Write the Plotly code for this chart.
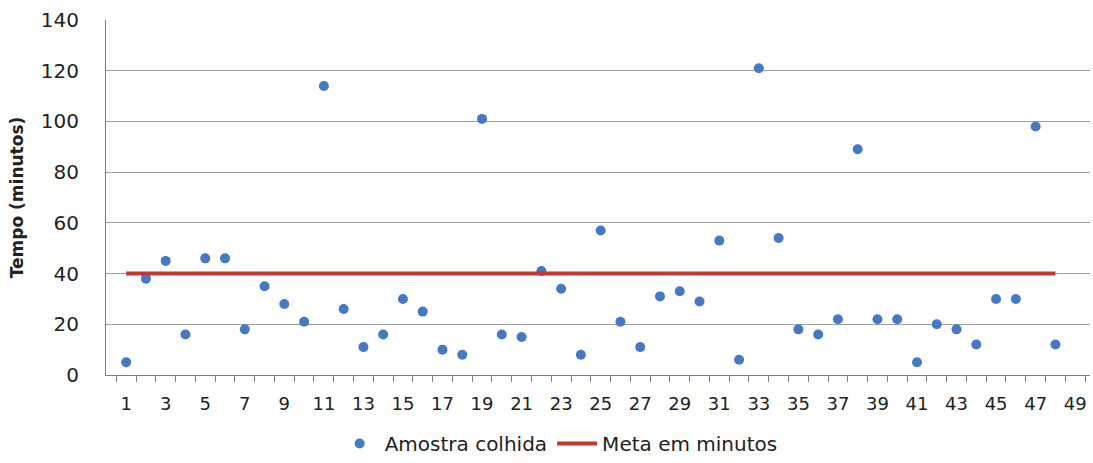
import plotly.graph_objects as go

amostra_x = list(range(1, 49))
amostra_y = [5, 38, 45, 16, 46, 46, 18, 35, 28, 21, 114, 26, 11, 16, 30, 25, 10, 8,
             101, 16, 15, 41, 34, 8, 57, 21, 11, 31, 33, 29, 53, 6, 121, 54, 18, 16,
             22, 89, 22, 22, 5, 20, 18, 12, 30, 30, 98, 12]
meta_x = [1, 48]
meta_y = [40, 40]
x_ticks = list(range(1, 50, 2))
y_ticks = [0, 20, 40, 60, 80, 100, 120, 140]

FONT = "DejaVu Sans"

fig = go.Figure()
fig.add_trace(go.Scatter(
    x=amostra_x, y=amostra_y, mode="markers", name="Amostra colhida",
    marker=dict(color="#4579C3", size=10, line=dict(width=0)),
))
fig.add_trace(go.Scatter(
    x=meta_x, y=meta_y, mode="lines", name="Meta em minutos",
    line=dict(color="#C0392F", width=4),
))

fig.update_layout(
    width=1093, height=463,
    margin=dict(l=106, r=3, t=20, b=88, autoexpand=False),
    paper_bgcolor="white", plot_bgcolor="white",
    font=dict(family=FONT, size=18, color="#222222"),
    showlegend=True,
    legend=dict(orientation="h", x=0.46, xanchor="center",
                yref="container", y=-0.012, yanchor="bottom",
                font=dict(size=20), itemwidth=40, traceorder="normal",
                tracegroupgap=0),
    xaxis=dict(
        range=[-0.02, 49.75], tickmode="array", tickvals=x_ticks,
        ticktext=[str(v) for v in x_ticks],
        showgrid=False, zeroline=False, showline=True, linecolor="#7f7f7f", linewidth=1,
        ticks="", ticklabelstandoff=12,
        minor=dict(tickmode="linear", tick0=0.5, dtick=1, ticks="outside", ticklen=6,
                   tickcolor="#7f7f7f", showgrid=False),
        tickfont=dict(size=18),
    ),
    yaxis=dict(
        range=[0, 140], tickmode="array", tickvals=y_ticks,
        showgrid=True, gridcolor="#a0a0a0", gridwidth=1, zeroline=False,
        showline=True, linecolor="#7f7f7f", linewidth=1, ticks="",
        ticklabelstandoff=22, tickfont=dict(size=20),
        title=dict(text="<b>Tempo (minutos)</b>", font=dict(size=17), standoff=12),
    ),
)

fig.write_html("out.html")
